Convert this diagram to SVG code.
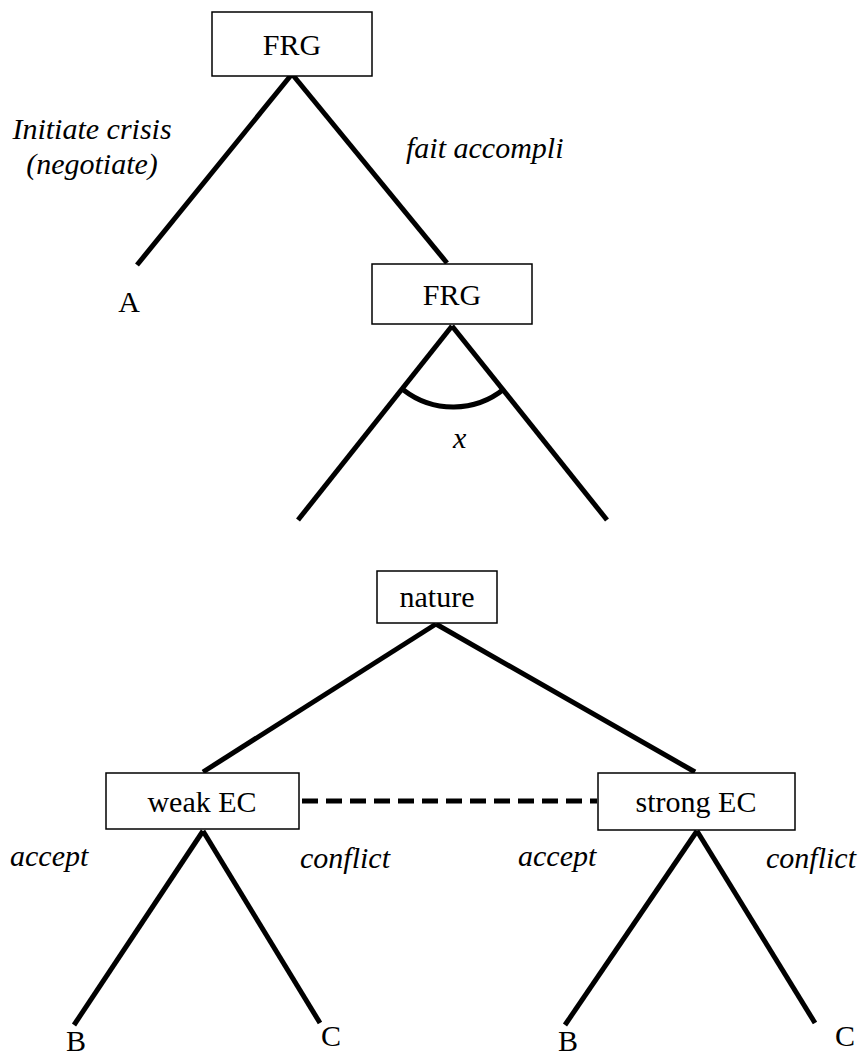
<svg xmlns="http://www.w3.org/2000/svg" width="865" height="1058" viewBox="0 0 865 1058">
<style>
.box{fill:#fff;stroke:#000;stroke-width:1.5}
text{font-family:'Liberation Serif','Times New Roman','DejaVu Serif',serif;font-size:30px;fill:#000}
.c{text-anchor:middle}
.i{font-style:italic}
.e{stroke:#000;stroke-width:5;fill:none}
</style>
<rect width="865" height="1058" fill="#fff"/>
<g id="connectors">
<line class="e" x1="292" y1="74" x2="137" y2="265"/>
<line class="e" x1="292" y1="74" x2="447" y2="263"/>
<line class="e" x1="452" y1="326" x2="298" y2="520"/>
<line class="e" x1="452" y1="326" x2="607" y2="520"/>
<path class="e" d="M403.5,390 A81,81 0 0 0 504,389"/>
<line class="e" x1="436" y1="624" x2="203" y2="772"/>
<line class="e" x1="436" y1="624" x2="695" y2="772"/>
<line class="e" x1="302" y1="801" x2="597" y2="801" stroke-dasharray="16,8"/>
<line class="e" x1="203" y1="831" x2="74" y2="1025"/>
<line class="e" x1="203" y1="831" x2="320" y2="1023"/>
<line class="e" x1="697" y1="831" x2="565" y2="1025"/>
<line class="e" x1="697" y1="831" x2="815" y2="1023"/>
</g>
<g id="labels">
<text class="i c" x="92" y="139" font-family="Liberation Serif, serif">Initiate crisis</text>
<text class="i c" x="92" y="174" font-family="Liberation Serif, serif">(negotiate)</text>
<text class="i" x="406" y="158" font-family="Liberation Serif, serif">fait accompli</text>
<text class="i" x="453" y="448" font-family="Liberation Serif, serif">x</text>
<text class="i" x="10" y="866" font-family="Liberation Serif, serif">accept</text>
<text class="i" x="300" y="868" font-family="Liberation Serif, serif">conflict</text>
<text class="i" x="518" y="866" font-family="Liberation Serif, serif">accept</text>
<text class="i" x="766" y="868" font-family="Liberation Serif, serif">conflict</text>
</g>
<g id="A"><text class="c" x="129" y="312" font-family="Liberation Serif, serif">A</text></g>
<g id="B1"><text class="c" x="76" y="1051" font-family="Liberation Serif, serif">B</text></g>
<g id="C1"><text class="c" x="331" y="1046" font-family="Liberation Serif, serif">C</text></g>
<g id="B2"><text class="c" x="568" y="1051" font-family="Liberation Serif, serif">B</text></g>
<g id="C2"><text class="c" x="845" y="1046" font-family="Liberation Serif, serif">C</text></g>
<g id="frg1"><rect class="box" x="212" y="12" width="160" height="64"/><text class="c" x="292" y="55" font-family="Liberation Serif, serif">FRG</text></g>
<g id="frg2"><rect class="box" x="372" y="264" width="160" height="60"/><text class="c" x="452" y="305" font-family="Liberation Serif, serif">FRG</text></g>
<g id="nature"><rect class="box" x="377" y="571" width="120" height="52"/><text class="c" x="437" y="607" font-family="Liberation Serif, serif">nature</text></g>
<g id="weakEC"><rect class="box" x="106" y="773" width="193" height="56"/><text class="c" x="202" y="812" font-family="Liberation Serif, serif">weak EC</text></g>
<g id="strongEC"><rect class="box" x="598" y="773" width="197" height="57"/><text class="c" x="696" y="812" font-family="Liberation Serif, serif">strong EC</text></g>
</svg>
